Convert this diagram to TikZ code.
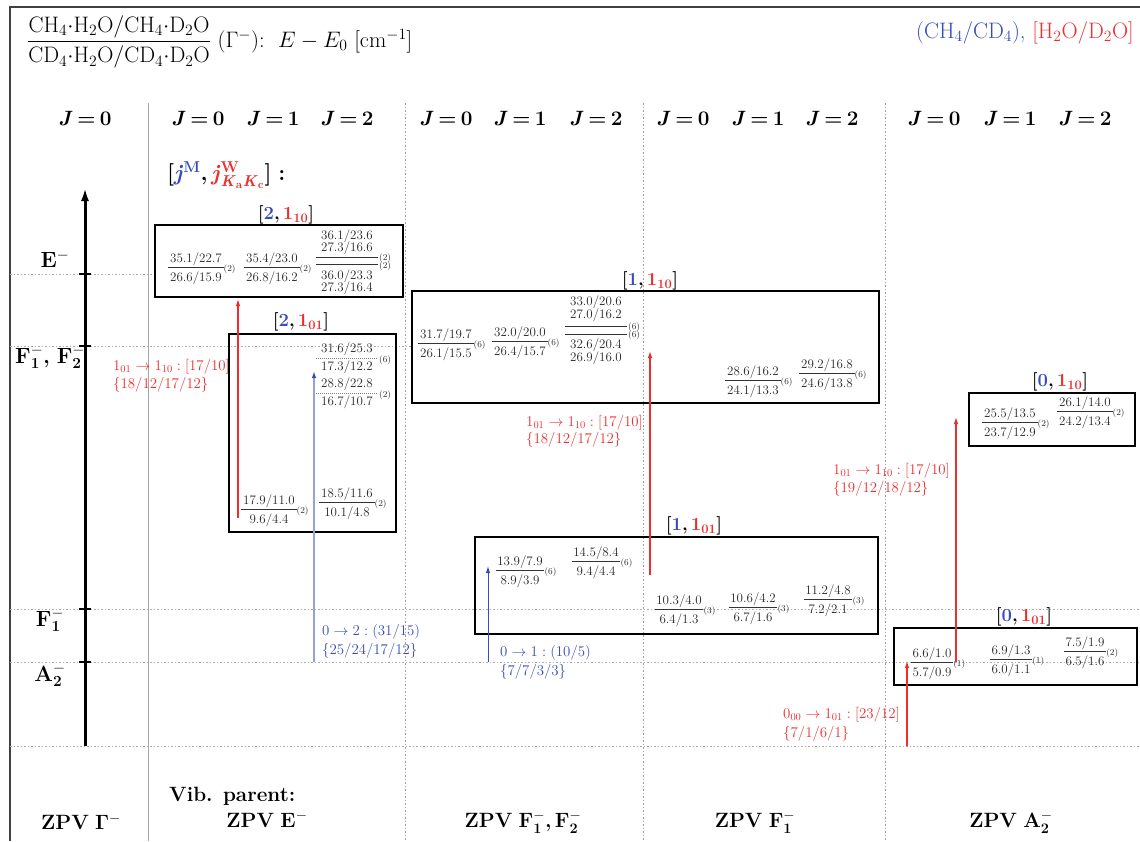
\RequirePackage{fix-cm}
\documentclass[tikz,border=0pt]{standalone}
\usepackage{amsmath}
\usetikzlibrary{arrows.meta}
\definecolor{myblue}{RGB}{55,75,185}
\definecolor{myred}{RGB}{238,45,45}
\definecolor{lblue}{RGB}{150,160,225}
\newcommand\myfs[1]{\fontsize{#1}{#1}\selectfont}
\newcommand\myJ[1]{\textbf{\textit{J}\hspace{0.22em}=\hspace{0.22em}#1}}
\newcommand\mybl[2]{\textbf{[\textcolor{myblue}{#1},\,\textcolor{myred}{1$_{\mathbf{#2}}$}]}}
\newcommand\mysym[3]{\textbf{#1}$^{-}_{\mathbf{#2}}$#3}
% name, x, ybar, numerator, denominator, multiplicity
\newcommand\myfr[6]{%
  \coordinate (#1) at (#2,#3);
  \node[mynum, anchor=base] (#1n) at (#2,#3-4.5) {#4};
  \node[mynum, anchor=base] (#1d) at (#2,#3+14.5) {#5};
  \draw[myfbar] ([xshift=-1.5pt]#1n.west |- #1) -- ([xshift=1.5pt]#1n.east |- #1);
  \node[mymlt, yshift=-2pt] (#1m) at ([xshift=1.5pt]#1n.east |- #1) {(#6)};
}
\begin{document}
\begin{tikzpicture}[x=1pt,y=-1pt,
  mybox/.style={draw=black, line width=2pt},
  mysep/.style={draw=gray!75, line width=0.8pt, dash pattern=on 1.5pt off 2pt},
  mylvl/.style={draw=gray!65, line width=0.8pt, dash pattern=on 1.5pt off 2pt},
  myhdr/.style={font=\myfs{20.7}, inner sep=0pt},
  mybig/.style={font=\myfs{20.7}, inner sep=0pt},
  mytitle/.style={font=\myfs{22.4}, inner sep=0pt},
  myblab/.style={font=\myfs{18.5}, inner sep=0pt},
  myann/.style={font=\myfs{14.9}, inner sep=0pt, anchor=west, text=myred},
  myannb/.style={myann, text=myblue},
  mynum/.style={font=\myfs{13}, inner sep=0pt, text=black!85},
  mymlt/.style={font=\myfs{9}, inner sep=0pt, anchor=west, text=black!85},
  myfbar/.style={draw=black!80, line width=0.6pt},
  mydbar/.style={draw=gray, line width=0.6pt, dash pattern=on 1pt off 1pt},
  myrarr/.style={draw=myred, line width=1.1pt, -{Latex[length=7pt,width=4.5pt]}},
  mybarr/.style={draw=myblue, line width=1pt, -{Latex[length=7pt,width=4.5pt]}},
  mylbarr/.style={draw=lblue, line width=1.3pt, -{Latex[length=7pt,width=4.5pt,color=myblue]}},
]
\useasboundingbox (0,0) rectangle (1140,841);
% frame
\draw[black!75, line width=1.5pt] (10,841) -- (10,7) -- (1140,7);
% column separators
\draw[gray!70, line width=0.8pt] (148,103) -- (148,841);
\foreach \x in {405,643,885} {\draw[mysep] (\x,103) -- (\x,841);}
% level lines
\draw[mylvl] (10,274) -- (155,274);
\draw[mylvl] (10,346) -- (412,346);
\draw[mylvl] (10,609) -- (1140,609);
\draw[mylvl] (10,662) -- (1140,662);
\draw[mylvl] (10,746) -- (1140,746);
% energy axis
\coordinate (ax0) at (85,746);
\coordinate (ax1) at (85,188);
\draw[line width=3pt, -{Latex[length=13pt,width=8pt]}] (ax0) -- (ax1);
\foreach \y in {274,346,609,662} {\draw[line width=1.2pt] (79,\y) -- (91,\y);}
% title
\node[mytitle, anchor=west] (title) at (27,42) {$\dfrac{\mathrm{CH_4{\cdot}H_2O/CH_4{\cdot}D_2O}}{\mathrm{CD_4{\cdot}H_2O/CD_4{\cdot}D_2O}}$\ $(\Gamma^-)$:\ \ $E-E_0$\ [cm$^{-1}$]};
\node[mytitle, anchor=east] (legend) at (1134,33) {\textcolor{myblue}{(CH$_4$/CD$_4$),} \textcolor{myred}{[H$_2$O/D$_2$O]}};
% headers
\node[myhdr] (h0) at (85,119) {\myJ{0}};
\node[myhdr] (h20) at (198,119) {\myJ{0}};
\node[myhdr] (h21) at (273,119) {\myJ{1}};
\node[myhdr] (h22) at (347,119) {\myJ{2}};
\node[myhdr] (h30) at (446,119) {\myJ{0}};
\node[myhdr] (h31) at (520,119) {\myJ{1}};
\node[myhdr] (h32) at (596,119) {\myJ{2}};
\node[myhdr] (h40) at (683,119) {\myJ{0}};
\node[myhdr] (h41) at (758,119) {\myJ{1}};
\node[myhdr] (h42) at (832,119) {\myJ{2}};
\node[myhdr] (h50) at (934,119) {\myJ{0}};
\node[myhdr] (h51) at (1010,119) {\myJ{1}};
\node[myhdr] (h52) at (1085,119) {\myJ{2}};
% level labels
\node[mybig, font=\myfs{22}] (lE) at (55,262) {\mysym{E}{}{}};
\node[mybig, font=\myfs{22}] (lF12) at (50,357) {\mysym{F}{1}{\textbf{,}} \mysym{F}{2}{}};
\node[mybig, font=\myfs{22}] (lF1) at (50,620) {\mysym{F}{1}{}};
\node[mybig, font=\myfs{22}] (lA2) at (50,675) {\mysym{A}{2}{}};
% key
\node[mybig, anchor=west, font=\myfs{22.5}] (jlab) at (167,175) {\textbf{[}\textcolor{myblue}{\textbf{\textit{j}}$^{\mathbf{M}}$}\textbf{,}\,\textcolor{myred}{\textbf{\textit{j}}$^{\mathbf{W}}_{\textbf{\textit{K}}_{\mathbf{a}}\textbf{\textit{K}}_{\mathbf{c}}}$}\textbf{]}\ \textbf{:}};
% boxes
\draw[mybox] (155,225) rectangle (403,297);
\draw[mybox] (229,334) rectangle (396,532);
\draw[mybox] (412,291) rectangle (879,403);
\draw[mybox] (969,393) rectangle (1135,446);
\draw[mybox] (475,537) rectangle (878,634);
\draw[mybox] (894,628) rectangle (1137,685);
% box labels
\node[myblab] (L210) at (286,215) {\mybl{2}{10}};
\node[myblab] (L201) at (301,322) {\mybl{2}{01}};
\node[myblab] (L110) at (650,281) {\mybl{1}{10}};
\node[myblab] (L010) at (1060,382) {\mybl{0}{10}};
\node[myblab] (L101) at (694,526) {\mybl{1}{01}};
\node[myblab] (L001) at (1024,617) {\mybl{0}{01}};
% box [2,1_10]
\myfr{a1}{196}{267}{35.1/22.7}{26.6/15.9}{2}
\myfr{a2}{272}{267}{35.4/23.0}{26.8/16.2}{2}
\node[mynum] (a3n1) at (347,236) {36.1/23.6};
\node[mynum] (a3n2) at (347,248) {27.3/16.6};
\draw[myfbar] (316,257) -- (378,257);
\draw[myfbar] (316,264) -- (378,264);
\node[mymlt] (a3m1) at (379,258) {(2)};
\node[mymlt] (a3m2) at (379,266) {(2)};
\node[mynum] (a3d1) at (347,276) {36.0/23.3};
\node[mynum] (a3d2) at (347,288) {27.3/16.4};
% box [2,1_01]
\node[mynum] (b1n) at (347,349) {31.6/25.3};
\draw[mydbar] (316,358) -- (378,358);
\node[mynum] (b1d) at (347,367) {17.3/12.2};
\node[mymlt] (b1m) at (379,360) {(6)};
\node[mynum] (b2n) at (347,384) {28.8/22.8};
\draw[mydbar] (316,393) -- (378,393);
\node[mynum] (b2d) at (347,402) {16.7/10.7};
\node[mymlt] (b2m) at (379,395) {(2)};
\myfr{b3}{269}{509}{17.9/11.0}{9.6/4.4}{2}
\myfr{b4}{347}{502}{18.5/11.6}{10.1/4.8}{2}
% box [1,1_10]
\myfr{c1}{446}{343}{31.7/19.7}{26.1/15.5}{6}
\myfr{c2}{520}{341}{32.0/20.0}{26.4/15.7}{6}
\node[mynum] (c3n1) at (596,302) {33.0/20.6};
\node[mynum] (c3n2) at (596,315) {27.0/16.2};
\draw[myfbar] (565,326) -- (627,326);
\draw[myfbar] (565,334) -- (627,334);
\node[mymlt] (c3m1) at (628,327) {(6)};
\node[mymlt] (c3m2) at (628,335) {(6)};
\node[mynum] (c3d1) at (596,345) {32.6/20.4};
\node[mynum] (c3d2) at (596,358) {26.9/16.0};
\myfr{c4}{753}{380}{28.6/16.2}{24.1/13.3}{6}
\myfr{c5}{827}{373}{29.2/16.8}{24.6/13.8}{6}
% box [1,1_01]
\myfr{d1}{520}{570}{13.9/7.9}{8.9/3.9}{6}
\myfr{d2}{596}{561}{14.5/8.4}{9.4/4.4}{6}
\myfr{d3}{679}{609}{10.3/4.0}{6.4/1.3}{3}
\myfr{d4}{753}{607}{10.6/4.2}{6.7/1.6}{3}
\myfr{d5}{828}{599}{11.2/4.8}{7.2/2.1}{3}
% box [0,1_10]
\myfr{e1}{1010}{422}{25.5/13.5}{23.7/12.9}{2}
\myfr{e2}{1085}{411}{26.1/14.0}{24.2/13.4}{2}
% box [0,1_01]
\myfr{g1}{932}{662}{6.6/1.0}{5.7/0.9}{1}
\myfr{g2}{1011}{659}{6.9/1.3}{6.0/1.1}{1}
\myfr{g3}{1085}{651}{7.5/1.9}{6.5/1.6}{2}
% transition arrows
\coordinate (r1s) at (238,518); \coordinate (r1e) at (238,299);
\coordinate (u1s) at (314,662); \coordinate (u1e) at (314,371);
\coordinate (u2s) at (488,662); \coordinate (u2e) at (488,566);
\coordinate (r2s) at (650,575); \coordinate (r2e) at (650,351);
\coordinate (r3s) at (956,662); \coordinate (r3e) at (956,417);
\coordinate (r4s) at (907,746); \coordinate (r4e) at (907,661);
\draw[myrarr] (r1s) -- (r1e);
\draw[mylbarr] (u1s) -- (u1e);
\draw[mybarr] (u2s) -- (u2e);
\draw[myrarr] (r2s) -- (r2e);
\draw[myrarr] (r3s) -- (r3e);
\draw[myrarr] (r4s) -- (r4e);
% transition labels
\node[myann] (t1a) at (113,367) {$1_{01}\to1_{10}:[17/10]$};
\node[myann] (t1b) at (113,385) {$\{18/12/17/12\}$};
\node[myannb] (t2a) at (322,632) {$0\to2:(31/15)$};
\node[myannb] (t2b) at (322,651) {$\{25/24/17/12\}$};
\node[myannb] (t3a) at (500,653) {$0\to1:(10/5)$};
\node[myannb] (t3b) at (500,672) {$\{7/7/3/3\}$};
\node[myann] (t4a) at (526,423) {$1_{01}\to1_{10}:[17/10]$};
\node[myann] (t4b) at (526,440) {$\{18/12/17/12\}$};
\node[myann] (t5a) at (833,471) {$1_{01}\to1_{10}:[17/10]$};
\node[myann] (t5b) at (833,489) {$\{19/12/18/12\}$};
\node[myann] (t6a) at (783,715) {$0_{00}\to1_{01}:[23/12]$};
\node[myann] (t6b) at (783,734) {$\{7/1/6/1\}$};
% bottom labels
\node[mybig] (z0) at (81,822) {\textbf{ZPV} $\mathbf{\Gamma}^-$};
\node[mybig, anchor=west] (vib) at (169,796) {\textbf{Vib. parent:}};
\node[mybig] (z1) at (267,822) {\textbf{ZPV} \mysym{E}{}{}};
\node[mybig] (z2) at (523,822) {\textbf{ZPV} \mysym{F}{1}{\textbf{,}}\,\mysym{F}{2}{}};
\node[mybig] (z3) at (755,822) {\textbf{ZPV} \mysym{F}{1}{}};
\node[mybig] (z4) at (1011,822) {\textbf{ZPV} \mysym{A}{2}{}};
\end{tikzpicture}
\end{document}
